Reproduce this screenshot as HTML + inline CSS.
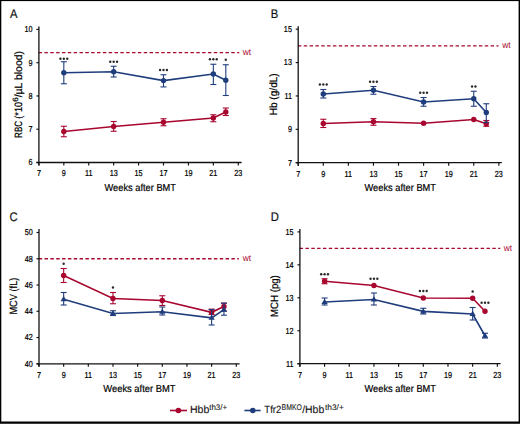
<!DOCTYPE html><html><head><meta charset="utf-8"><style>html,body{margin:0;padding:0;background:#fff;overflow:hidden}svg{display:block}</style></head><body><svg width="520" height="424" viewBox="0 0 520 424" font-family='"Liberation Sans", sans-serif' text-rendering="geometricPrecision">
<rect x="0" y="0" width="520" height="424" fill="#fff"/>
<text transform="translate(10,18.2) scale(0.9,1)" font-size="12.5" fill="#111" stroke="#111" stroke-width="0.2">A</text>
<line x1="38.6" y1="52.69249999999998" x2="239.3" y2="52.69249999999998" stroke="#a8062f" stroke-width="1.3" stroke-dasharray="3.45 2.39"/>
<text x="242.7" y="55.29249999999998" font-size="9" fill="#a8062f" textLength="8.4" lengthAdjust="spacingAndGlyphs">wt</text>
<line x1="38.9" y1="26.5" x2="38.9" y2="165.5" stroke="#111" stroke-width="1.3"/>
<line x1="36.4" y1="162.5" x2="241.6" y2="162.5" stroke="#111" stroke-width="1.3"/>
<line x1="38.9" y1="162.5" x2="38.9" y2="165.5" stroke="#111" stroke-width="1.15"/>
<text transform="translate(38.90,176.40) scale(0.83,1)" font-size="8.7" fill="#000" stroke="#000" stroke-width="0.22" text-anchor="middle">7</text>
<line x1="63.82" y1="162.5" x2="63.82" y2="165.5" stroke="#111" stroke-width="1.15"/>
<text transform="translate(63.82,176.40) scale(0.83,1)" font-size="8.7" fill="#000" stroke="#000" stroke-width="0.22" text-anchor="middle">9</text>
<line x1="88.74000000000001" y1="162.5" x2="88.74000000000001" y2="165.5" stroke="#111" stroke-width="1.15"/>
<text transform="translate(88.74,176.40) scale(0.83,1)" font-size="8.7" fill="#000" stroke="#000" stroke-width="0.22" text-anchor="middle">11</text>
<line x1="113.66" y1="162.5" x2="113.66" y2="165.5" stroke="#111" stroke-width="1.15"/>
<text transform="translate(113.66,176.40) scale(0.83,1)" font-size="8.7" fill="#000" stroke="#000" stroke-width="0.22" text-anchor="middle">13</text>
<line x1="138.58" y1="162.5" x2="138.58" y2="165.5" stroke="#111" stroke-width="1.15"/>
<text transform="translate(138.58,176.40) scale(0.83,1)" font-size="8.7" fill="#000" stroke="#000" stroke-width="0.22" text-anchor="middle">15</text>
<line x1="163.5" y1="162.5" x2="163.5" y2="165.5" stroke="#111" stroke-width="1.15"/>
<text transform="translate(163.50,176.40) scale(0.83,1)" font-size="8.7" fill="#000" stroke="#000" stroke-width="0.22" text-anchor="middle">17</text>
<line x1="188.42000000000002" y1="162.5" x2="188.42000000000002" y2="165.5" stroke="#111" stroke-width="1.15"/>
<text transform="translate(188.42,176.40) scale(0.83,1)" font-size="8.7" fill="#000" stroke="#000" stroke-width="0.22" text-anchor="middle">19</text>
<line x1="213.34" y1="162.5" x2="213.34" y2="165.5" stroke="#111" stroke-width="1.15"/>
<text transform="translate(213.34,176.40) scale(0.83,1)" font-size="8.7" fill="#000" stroke="#000" stroke-width="0.22" text-anchor="middle">21</text>
<line x1="238.26000000000002" y1="162.5" x2="238.26000000000002" y2="165.5" stroke="#111" stroke-width="1.15"/>
<text transform="translate(238.26,176.40) scale(0.83,1)" font-size="8.7" fill="#000" stroke="#000" stroke-width="0.22" text-anchor="middle">23</text>
<line x1="36.4" y1="162.5" x2="38.9" y2="162.5" stroke="#111" stroke-width="1.15"/>
<text transform="translate(32.60,165.40) scale(0.83,1)" font-size="8.7" fill="#000" stroke="#000" stroke-width="0.22" text-anchor="end">6</text>
<line x1="36.4" y1="129.225" x2="38.9" y2="129.225" stroke="#111" stroke-width="1.15"/>
<text transform="translate(32.60,132.12) scale(0.83,1)" font-size="8.7" fill="#000" stroke="#000" stroke-width="0.22" text-anchor="end">7</text>
<line x1="36.4" y1="95.95" x2="38.9" y2="95.95" stroke="#111" stroke-width="1.15"/>
<text transform="translate(32.60,98.85) scale(0.83,1)" font-size="8.7" fill="#000" stroke="#000" stroke-width="0.22" text-anchor="end">8</text>
<line x1="36.4" y1="62.67500000000001" x2="38.9" y2="62.67500000000001" stroke="#111" stroke-width="1.15"/>
<text transform="translate(32.60,65.58) scale(0.83,1)" font-size="8.7" fill="#000" stroke="#000" stroke-width="0.22" text-anchor="end">9</text>
<line x1="36.4" y1="29.400000000000006" x2="38.9" y2="29.400000000000006" stroke="#111" stroke-width="1.15"/>
<text transform="translate(32.60,32.30) scale(0.83,1)" font-size="8.7" fill="#000" stroke="#000" stroke-width="0.22" text-anchor="end">10</text>
<text x="104.5" y="190.9" font-size="10.2" fill="#000" stroke="#000" stroke-width="0.2" textLength="71.5" lengthAdjust="spacingAndGlyphs">Weeks after BMT</text>
<text transform="translate(22.2,137.9) rotate(-90)" x="0" y="0" font-size="10.6" fill="#000" stroke="#000" stroke-width="0.2" textLength="16.9" lengthAdjust="spacingAndGlyphs">RBC</text>
<text transform="translate(22.2,137.9) rotate(-90)" x="19.2" y="0" font-size="10.6" fill="#000" stroke="#000" stroke-width="0.2" textLength="16.8" lengthAdjust="spacingAndGlyphs">(*10</text>
<text transform="translate(22.2,137.9) rotate(-90)" x="36.1" y="-3.8" font-size="7.6" fill="#000" stroke="#000" stroke-width="0.2" textLength="4.5" lengthAdjust="spacingAndGlyphs">6</text>
<text transform="translate(22.2,137.9) rotate(-90)" x="40.6" y="0" font-size="10.6" fill="#000" stroke="#000" stroke-width="0.2" textLength="46.3" lengthAdjust="spacingAndGlyphs">/µL blood)</text>
<polyline points="63.82,131.50 113.66,126.50 163.50,122.25 213.34,118.00 225.80,112.00" fill="none" stroke="#a8062f" stroke-width="1.6"/>
<line x1="63.82" y1="126.25" x2="63.82" y2="136.75" stroke="#a8062f" stroke-width="1.1"/>
<line x1="60.82" y1="126.25" x2="66.82" y2="126.25" stroke="#a8062f" stroke-width="1.1"/>
<line x1="60.82" y1="136.75" x2="66.82" y2="136.75" stroke="#a8062f" stroke-width="1.1"/>
<circle cx="63.82" cy="131.5" r="2.7" fill="#a8062f"/>
<line x1="113.66" y1="121.5" x2="113.66" y2="131.25" stroke="#a8062f" stroke-width="1.1"/>
<line x1="110.66" y1="121.5" x2="116.66" y2="121.5" stroke="#a8062f" stroke-width="1.1"/>
<line x1="110.66" y1="131.25" x2="116.66" y2="131.25" stroke="#a8062f" stroke-width="1.1"/>
<circle cx="113.66" cy="126.5" r="2.7" fill="#a8062f"/>
<line x1="163.5" y1="118.75" x2="163.5" y2="125.75" stroke="#a8062f" stroke-width="1.1"/>
<line x1="160.5" y1="118.75" x2="166.5" y2="118.75" stroke="#a8062f" stroke-width="1.1"/>
<line x1="160.5" y1="125.75" x2="166.5" y2="125.75" stroke="#a8062f" stroke-width="1.1"/>
<circle cx="163.5" cy="122.25" r="2.7" fill="#a8062f"/>
<line x1="213.34" y1="114.75" x2="213.34" y2="121.75" stroke="#a8062f" stroke-width="1.1"/>
<line x1="210.34" y1="114.75" x2="216.34" y2="114.75" stroke="#a8062f" stroke-width="1.1"/>
<line x1="210.34" y1="121.75" x2="216.34" y2="121.75" stroke="#a8062f" stroke-width="1.1"/>
<circle cx="213.34" cy="118" r="2.7" fill="#a8062f"/>
<line x1="225.8" y1="108" x2="225.8" y2="115.5" stroke="#a8062f" stroke-width="1.1"/>
<line x1="222.8" y1="108" x2="228.8" y2="108" stroke="#a8062f" stroke-width="1.1"/>
<line x1="222.8" y1="115.5" x2="228.8" y2="115.5" stroke="#a8062f" stroke-width="1.1"/>
<circle cx="225.8" cy="112" r="2.7" fill="#a8062f"/>
<polyline points="63.82,72.75 113.66,71.75 163.50,80.60 213.34,74.00 225.80,80.25" fill="none" stroke="#1f3d7c" stroke-width="1.6"/>
<line x1="63.82" y1="61.75" x2="63.82" y2="83.75" stroke="#1f3d7c" stroke-width="1.1"/>
<line x1="60.82" y1="61.75" x2="66.82" y2="61.75" stroke="#1f3d7c" stroke-width="1.1"/>
<line x1="60.82" y1="83.75" x2="66.82" y2="83.75" stroke="#1f3d7c" stroke-width="1.1"/>
<circle cx="63.82" cy="72.75" r="2.7" fill="#1f3d7c"/>
<circle cx="60.42" cy="58.75" r="1.2" fill="#2a2a2a"/>
<circle cx="63.82" cy="58.75" r="1.2" fill="#2a2a2a"/>
<circle cx="67.22" cy="58.75" r="1.2" fill="#2a2a2a"/>
<line x1="113.66" y1="66.25" x2="113.66" y2="77" stroke="#1f3d7c" stroke-width="1.1"/>
<line x1="110.66" y1="66.25" x2="116.66" y2="66.25" stroke="#1f3d7c" stroke-width="1.1"/>
<line x1="110.66" y1="77" x2="116.66" y2="77" stroke="#1f3d7c" stroke-width="1.1"/>
<circle cx="113.66" cy="71.75" r="2.7" fill="#1f3d7c"/>
<circle cx="110.26" cy="61.75" r="1.2" fill="#2a2a2a"/>
<circle cx="113.66" cy="61.75" r="1.2" fill="#2a2a2a"/>
<circle cx="117.06" cy="61.75" r="1.2" fill="#2a2a2a"/>
<line x1="163.5" y1="74.75" x2="163.5" y2="86.9" stroke="#1f3d7c" stroke-width="1.1"/>
<line x1="160.5" y1="74.75" x2="166.5" y2="74.75" stroke="#1f3d7c" stroke-width="1.1"/>
<line x1="160.5" y1="86.9" x2="166.5" y2="86.9" stroke="#1f3d7c" stroke-width="1.1"/>
<circle cx="163.5" cy="80.6" r="2.7" fill="#1f3d7c"/>
<circle cx="160.10" cy="70" r="1.2" fill="#2a2a2a"/>
<circle cx="163.50" cy="70" r="1.2" fill="#2a2a2a"/>
<circle cx="166.90" cy="70" r="1.2" fill="#2a2a2a"/>
<line x1="213.34" y1="64.25" x2="213.34" y2="84.5" stroke="#1f3d7c" stroke-width="1.1"/>
<line x1="210.34" y1="64.25" x2="216.34" y2="64.25" stroke="#1f3d7c" stroke-width="1.1"/>
<line x1="210.34" y1="84.5" x2="216.34" y2="84.5" stroke="#1f3d7c" stroke-width="1.1"/>
<circle cx="213.34" cy="74" r="2.7" fill="#1f3d7c"/>
<circle cx="209.94" cy="59.25" r="1.2" fill="#2a2a2a"/>
<circle cx="213.34" cy="59.25" r="1.2" fill="#2a2a2a"/>
<circle cx="216.74" cy="59.25" r="1.2" fill="#2a2a2a"/>
<line x1="225.8" y1="64.75" x2="225.8" y2="95.5" stroke="#1f3d7c" stroke-width="1.1"/>
<line x1="222.8" y1="64.75" x2="228.8" y2="64.75" stroke="#1f3d7c" stroke-width="1.1"/>
<line x1="222.8" y1="95.5" x2="228.8" y2="95.5" stroke="#1f3d7c" stroke-width="1.1"/>
<circle cx="225.8" cy="80.25" r="2.7" fill="#1f3d7c"/>
<circle cx="225.80" cy="59.75" r="1.2" fill="#2a2a2a"/>
<text transform="translate(270.8,18.4) scale(0.9,1)" font-size="12.5" fill="#111" stroke="#111" stroke-width="0.2">B</text>
<line x1="297.9" y1="45.88749999999999" x2="498.5" y2="45.88749999999999" stroke="#a8062f" stroke-width="1.3" stroke-dasharray="3.45 2.39"/>
<text x="502.2" y="48.48749999999999" font-size="9" fill="#a8062f" textLength="8.4" lengthAdjust="spacingAndGlyphs">wt</text>
<line x1="298.2" y1="26.3" x2="298.2" y2="165.7" stroke="#111" stroke-width="1.3"/>
<line x1="295.7" y1="162.7" x2="501.8" y2="162.7" stroke="#111" stroke-width="1.3"/>
<line x1="298.2" y1="162.7" x2="298.2" y2="165.7" stroke="#111" stroke-width="1.15"/>
<text transform="translate(298.20,176.60) scale(0.83,1)" font-size="8.7" fill="#000" stroke="#000" stroke-width="0.22" text-anchor="middle">7</text>
<line x1="323.28" y1="162.7" x2="323.28" y2="165.7" stroke="#111" stroke-width="1.15"/>
<text transform="translate(323.28,176.60) scale(0.83,1)" font-size="8.7" fill="#000" stroke="#000" stroke-width="0.22" text-anchor="middle">9</text>
<line x1="348.36" y1="162.7" x2="348.36" y2="165.7" stroke="#111" stroke-width="1.15"/>
<text transform="translate(348.36,176.60) scale(0.83,1)" font-size="8.7" fill="#000" stroke="#000" stroke-width="0.22" text-anchor="middle">11</text>
<line x1="373.44" y1="162.7" x2="373.44" y2="165.7" stroke="#111" stroke-width="1.15"/>
<text transform="translate(373.44,176.60) scale(0.83,1)" font-size="8.7" fill="#000" stroke="#000" stroke-width="0.22" text-anchor="middle">13</text>
<line x1="398.52" y1="162.7" x2="398.52" y2="165.7" stroke="#111" stroke-width="1.15"/>
<text transform="translate(398.52,176.60) scale(0.83,1)" font-size="8.7" fill="#000" stroke="#000" stroke-width="0.22" text-anchor="middle">15</text>
<line x1="423.59999999999997" y1="162.7" x2="423.59999999999997" y2="165.7" stroke="#111" stroke-width="1.15"/>
<text transform="translate(423.60,176.60) scale(0.83,1)" font-size="8.7" fill="#000" stroke="#000" stroke-width="0.22" text-anchor="middle">17</text>
<line x1="448.67999999999995" y1="162.7" x2="448.67999999999995" y2="165.7" stroke="#111" stroke-width="1.15"/>
<text transform="translate(448.68,176.60) scale(0.83,1)" font-size="8.7" fill="#000" stroke="#000" stroke-width="0.22" text-anchor="middle">19</text>
<line x1="473.76" y1="162.7" x2="473.76" y2="165.7" stroke="#111" stroke-width="1.15"/>
<text transform="translate(473.76,176.60) scale(0.83,1)" font-size="8.7" fill="#000" stroke="#000" stroke-width="0.22" text-anchor="middle">21</text>
<line x1="498.84" y1="162.7" x2="498.84" y2="165.7" stroke="#111" stroke-width="1.15"/>
<text transform="translate(498.84,176.60) scale(0.83,1)" font-size="8.7" fill="#000" stroke="#000" stroke-width="0.22" text-anchor="middle">23</text>
<line x1="295.7" y1="162.7" x2="298.2" y2="162.7" stroke="#111" stroke-width="1.15"/>
<text transform="translate(291.90,165.60) scale(0.83,1)" font-size="8.7" fill="#000" stroke="#000" stroke-width="0.22" text-anchor="end">7</text>
<line x1="295.7" y1="129.325" x2="298.2" y2="129.325" stroke="#111" stroke-width="1.15"/>
<text transform="translate(291.90,132.22) scale(0.83,1)" font-size="8.7" fill="#000" stroke="#000" stroke-width="0.22" text-anchor="end">9</text>
<line x1="295.7" y1="95.94999999999999" x2="298.2" y2="95.94999999999999" stroke="#111" stroke-width="1.15"/>
<text transform="translate(291.90,98.85) scale(0.83,1)" font-size="8.7" fill="#000" stroke="#000" stroke-width="0.22" text-anchor="end">11</text>
<line x1="295.7" y1="62.57499999999999" x2="298.2" y2="62.57499999999999" stroke="#111" stroke-width="1.15"/>
<text transform="translate(291.90,65.47) scale(0.83,1)" font-size="8.7" fill="#000" stroke="#000" stroke-width="0.22" text-anchor="end">13</text>
<line x1="295.7" y1="29.19999999999999" x2="298.2" y2="29.19999999999999" stroke="#111" stroke-width="1.15"/>
<text transform="translate(291.90,32.10) scale(0.83,1)" font-size="8.7" fill="#000" stroke="#000" stroke-width="0.22" text-anchor="end">15</text>
<text x="364.5" y="190.9" font-size="10.2" fill="#000" stroke="#000" stroke-width="0.2" textLength="71.5" lengthAdjust="spacingAndGlyphs">Weeks after BMT</text>
<text transform="translate(277.0,115.3) rotate(-90)" x="0" y="0" font-size="10.6" fill="#000" stroke="#000" stroke-width="0.2" textLength="42.0" lengthAdjust="spacingAndGlyphs">Hb (g/dL)</text>
<polyline points="323.28,123.50 373.44,121.75 423.60,123.25 473.76,119.50 486.30,123.75" fill="none" stroke="#a8062f" stroke-width="1.6"/>
<line x1="323.28" y1="119.25" x2="323.28" y2="127.5" stroke="#a8062f" stroke-width="1.1"/>
<line x1="320.28" y1="119.25" x2="326.28" y2="119.25" stroke="#a8062f" stroke-width="1.1"/>
<line x1="320.28" y1="127.5" x2="326.28" y2="127.5" stroke="#a8062f" stroke-width="1.1"/>
<circle cx="323.28" cy="123.5" r="2.7" fill="#a8062f"/>
<line x1="373.44" y1="118.6" x2="373.44" y2="125.25" stroke="#a8062f" stroke-width="1.1"/>
<line x1="370.44" y1="118.6" x2="376.44" y2="118.6" stroke="#a8062f" stroke-width="1.1"/>
<line x1="370.44" y1="125.25" x2="376.44" y2="125.25" stroke="#a8062f" stroke-width="1.1"/>
<circle cx="373.44" cy="121.75" r="2.7" fill="#a8062f"/>
<circle cx="423.59999999999997" cy="123.25" r="2.7" fill="#a8062f"/>
<circle cx="473.76" cy="119.5" r="2.7" fill="#a8062f"/>
<line x1="486.29999999999995" y1="120.5" x2="486.29999999999995" y2="126.25" stroke="#a8062f" stroke-width="1.1"/>
<line x1="483.29999999999995" y1="120.5" x2="489.29999999999995" y2="120.5" stroke="#a8062f" stroke-width="1.1"/>
<line x1="483.29999999999995" y1="126.25" x2="489.29999999999995" y2="126.25" stroke="#a8062f" stroke-width="1.1"/>
<circle cx="486.29999999999995" cy="123.75" r="2.7" fill="#a8062f"/>
<polyline points="323.28,94.00 373.44,90.25 423.60,102.00 473.76,98.75 486.30,112.50" fill="none" stroke="#1f3d7c" stroke-width="1.6"/>
<line x1="323.28" y1="89.5" x2="323.28" y2="98" stroke="#1f3d7c" stroke-width="1.1"/>
<line x1="320.28" y1="89.5" x2="326.28" y2="89.5" stroke="#1f3d7c" stroke-width="1.1"/>
<line x1="320.28" y1="98" x2="326.28" y2="98" stroke="#1f3d7c" stroke-width="1.1"/>
<circle cx="323.28" cy="94" r="2.7" fill="#1f3d7c"/>
<circle cx="319.88" cy="84.5" r="1.2" fill="#2a2a2a"/>
<circle cx="323.28" cy="84.5" r="1.2" fill="#2a2a2a"/>
<circle cx="326.68" cy="84.5" r="1.2" fill="#2a2a2a"/>
<line x1="373.44" y1="86.5" x2="373.44" y2="94.25" stroke="#1f3d7c" stroke-width="1.1"/>
<line x1="370.44" y1="86.5" x2="376.44" y2="86.5" stroke="#1f3d7c" stroke-width="1.1"/>
<line x1="370.44" y1="94.25" x2="376.44" y2="94.25" stroke="#1f3d7c" stroke-width="1.1"/>
<circle cx="373.44" cy="90.25" r="2.7" fill="#1f3d7c"/>
<circle cx="370.04" cy="81.75" r="1.2" fill="#2a2a2a"/>
<circle cx="373.44" cy="81.75" r="1.2" fill="#2a2a2a"/>
<circle cx="376.84" cy="81.75" r="1.2" fill="#2a2a2a"/>
<line x1="423.59999999999997" y1="97.5" x2="423.59999999999997" y2="106.25" stroke="#1f3d7c" stroke-width="1.1"/>
<line x1="420.59999999999997" y1="97.5" x2="426.59999999999997" y2="97.5" stroke="#1f3d7c" stroke-width="1.1"/>
<line x1="420.59999999999997" y1="106.25" x2="426.59999999999997" y2="106.25" stroke="#1f3d7c" stroke-width="1.1"/>
<circle cx="423.59999999999997" cy="102" r="2.7" fill="#1f3d7c"/>
<circle cx="420.20" cy="92.75" r="1.2" fill="#2a2a2a"/>
<circle cx="423.60" cy="92.75" r="1.2" fill="#2a2a2a"/>
<circle cx="427.00" cy="92.75" r="1.2" fill="#2a2a2a"/>
<line x1="473.76" y1="91.25" x2="473.76" y2="106.25" stroke="#1f3d7c" stroke-width="1.1"/>
<line x1="470.76" y1="91.25" x2="476.76" y2="91.25" stroke="#1f3d7c" stroke-width="1.1"/>
<line x1="470.76" y1="106.25" x2="476.76" y2="106.25" stroke="#1f3d7c" stroke-width="1.1"/>
<circle cx="473.76" cy="98.75" r="2.7" fill="#1f3d7c"/>
<circle cx="472.06" cy="86.5" r="1.2" fill="#2a2a2a"/>
<circle cx="475.46" cy="86.5" r="1.2" fill="#2a2a2a"/>
<line x1="486.29999999999995" y1="103.75" x2="486.29999999999995" y2="122.5" stroke="#1f3d7c" stroke-width="1.1"/>
<line x1="483.29999999999995" y1="103.75" x2="489.29999999999995" y2="103.75" stroke="#1f3d7c" stroke-width="1.1"/>
<line x1="483.29999999999995" y1="122.5" x2="489.29999999999995" y2="122.5" stroke="#1f3d7c" stroke-width="1.1"/>
<circle cx="486.29999999999995" cy="112.5" r="2.7" fill="#1f3d7c"/>
<text transform="translate(9.5,221.3) scale(0.9,1)" font-size="12.5" fill="#111" stroke="#111" stroke-width="0.2">C</text>
<line x1="38.7" y1="258.76" x2="238.8" y2="258.76" stroke="#a8062f" stroke-width="1.3" stroke-dasharray="3.45 2.39"/>
<text x="242.8" y="261.36" font-size="9" fill="#a8062f" textLength="8.4" lengthAdjust="spacingAndGlyphs">wt</text>
<line x1="39" y1="229" x2="39" y2="366.8" stroke="#111" stroke-width="1.3"/>
<line x1="36.5" y1="363.8" x2="239.6" y2="363.8" stroke="#111" stroke-width="1.3"/>
<line x1="39.0" y1="363.8" x2="39.0" y2="366.8" stroke="#111" stroke-width="1.15"/>
<text transform="translate(39.00,377.70) scale(0.83,1)" font-size="8.7" fill="#000" stroke="#000" stroke-width="0.22" text-anchor="middle">7</text>
<line x1="63.66" y1="363.8" x2="63.66" y2="366.8" stroke="#111" stroke-width="1.15"/>
<text transform="translate(63.66,377.70) scale(0.83,1)" font-size="8.7" fill="#000" stroke="#000" stroke-width="0.22" text-anchor="middle">9</text>
<line x1="88.32" y1="363.8" x2="88.32" y2="366.8" stroke="#111" stroke-width="1.15"/>
<text transform="translate(88.32,377.70) scale(0.83,1)" font-size="8.7" fill="#000" stroke="#000" stroke-width="0.22" text-anchor="middle">11</text>
<line x1="112.98" y1="363.8" x2="112.98" y2="366.8" stroke="#111" stroke-width="1.15"/>
<text transform="translate(112.98,377.70) scale(0.83,1)" font-size="8.7" fill="#000" stroke="#000" stroke-width="0.22" text-anchor="middle">13</text>
<line x1="137.64" y1="363.8" x2="137.64" y2="366.8" stroke="#111" stroke-width="1.15"/>
<text transform="translate(137.64,377.70) scale(0.83,1)" font-size="8.7" fill="#000" stroke="#000" stroke-width="0.22" text-anchor="middle">15</text>
<line x1="162.3" y1="363.8" x2="162.3" y2="366.8" stroke="#111" stroke-width="1.15"/>
<text transform="translate(162.30,377.70) scale(0.83,1)" font-size="8.7" fill="#000" stroke="#000" stroke-width="0.22" text-anchor="middle">17</text>
<line x1="186.96" y1="363.8" x2="186.96" y2="366.8" stroke="#111" stroke-width="1.15"/>
<text transform="translate(186.96,377.70) scale(0.83,1)" font-size="8.7" fill="#000" stroke="#000" stroke-width="0.22" text-anchor="middle">19</text>
<line x1="211.62" y1="363.8" x2="211.62" y2="366.8" stroke="#111" stroke-width="1.15"/>
<text transform="translate(211.62,377.70) scale(0.83,1)" font-size="8.7" fill="#000" stroke="#000" stroke-width="0.22" text-anchor="middle">21</text>
<line x1="236.28" y1="363.8" x2="236.28" y2="366.8" stroke="#111" stroke-width="1.15"/>
<text transform="translate(236.28,377.70) scale(0.83,1)" font-size="8.7" fill="#000" stroke="#000" stroke-width="0.22" text-anchor="middle">23</text>
<line x1="36.5" y1="363.8" x2="39" y2="363.8" stroke="#111" stroke-width="1.15"/>
<text transform="translate(32.70,366.70) scale(0.83,1)" font-size="8.7" fill="#000" stroke="#000" stroke-width="0.22" text-anchor="end">40</text>
<line x1="36.5" y1="337.54" x2="39" y2="337.54" stroke="#111" stroke-width="1.15"/>
<text transform="translate(32.70,340.44) scale(0.83,1)" font-size="8.7" fill="#000" stroke="#000" stroke-width="0.22" text-anchor="end">42</text>
<line x1="36.5" y1="311.28000000000003" x2="39" y2="311.28000000000003" stroke="#111" stroke-width="1.15"/>
<text transform="translate(32.70,314.18) scale(0.83,1)" font-size="8.7" fill="#000" stroke="#000" stroke-width="0.22" text-anchor="end">44</text>
<line x1="36.5" y1="285.02" x2="39" y2="285.02" stroke="#111" stroke-width="1.15"/>
<text transform="translate(32.70,287.92) scale(0.83,1)" font-size="8.7" fill="#000" stroke="#000" stroke-width="0.22" text-anchor="end">46</text>
<line x1="36.5" y1="258.76" x2="39" y2="258.76" stroke="#111" stroke-width="1.15"/>
<text transform="translate(32.70,261.66) scale(0.83,1)" font-size="8.7" fill="#000" stroke="#000" stroke-width="0.22" text-anchor="end">48</text>
<line x1="36.5" y1="232.5" x2="39" y2="232.5" stroke="#111" stroke-width="1.15"/>
<text transform="translate(32.70,235.40) scale(0.83,1)" font-size="8.7" fill="#000" stroke="#000" stroke-width="0.22" text-anchor="end">50</text>
<text x="103.3" y="392.3" font-size="10.2" fill="#000" stroke="#000" stroke-width="0.2" textLength="72.2" lengthAdjust="spacingAndGlyphs">Weeks after BMT</text>
<text transform="translate(16.6,314.6) rotate(-90)" x="0" y="0" font-size="10.6" fill="#000" stroke="#000" stroke-width="0.2" textLength="37.0" lengthAdjust="spacingAndGlyphs">MCV (fL)</text>
<polyline points="63.66,275.50 112.98,298.50 162.30,300.50 211.62,312.30 223.95,306.50" fill="none" stroke="#a8062f" stroke-width="1.6"/>
<line x1="63.66" y1="268.5" x2="63.66" y2="282.5" stroke="#a8062f" stroke-width="1.1"/>
<line x1="60.66" y1="268.5" x2="66.66" y2="268.5" stroke="#a8062f" stroke-width="1.1"/>
<line x1="60.66" y1="282.5" x2="66.66" y2="282.5" stroke="#a8062f" stroke-width="1.1"/>
<circle cx="63.66" cy="275.5" r="2.7" fill="#a8062f"/>
<circle cx="63.66" cy="263.75" r="1.2" fill="#2a2a2a"/>
<line x1="112.98" y1="292.5" x2="112.98" y2="303.75" stroke="#a8062f" stroke-width="1.1"/>
<line x1="109.98" y1="292.5" x2="115.98" y2="292.5" stroke="#a8062f" stroke-width="1.1"/>
<line x1="109.98" y1="303.75" x2="115.98" y2="303.75" stroke="#a8062f" stroke-width="1.1"/>
<circle cx="112.98" cy="298.5" r="2.7" fill="#a8062f"/>
<circle cx="112.98" cy="287.5" r="1.2" fill="#2a2a2a"/>
<line x1="162.3" y1="295.75" x2="162.3" y2="305.5" stroke="#a8062f" stroke-width="1.1"/>
<line x1="159.3" y1="295.75" x2="165.3" y2="295.75" stroke="#a8062f" stroke-width="1.1"/>
<line x1="159.3" y1="305.5" x2="165.3" y2="305.5" stroke="#a8062f" stroke-width="1.1"/>
<circle cx="162.3" cy="300.5" r="2.7" fill="#a8062f"/>
<line x1="211.62" y1="309.1" x2="211.62" y2="314.5" stroke="#a8062f" stroke-width="1.1"/>
<line x1="208.62" y1="309.1" x2="214.62" y2="309.1" stroke="#a8062f" stroke-width="1.1"/>
<line x1="208.62" y1="314.5" x2="214.62" y2="314.5" stroke="#a8062f" stroke-width="1.1"/>
<circle cx="211.62" cy="312.3" r="2.7" fill="#a8062f"/>
<line x1="223.95" y1="303" x2="223.95" y2="311" stroke="#a8062f" stroke-width="1.1"/>
<line x1="220.95" y1="303" x2="226.95" y2="303" stroke="#a8062f" stroke-width="1.1"/>
<line x1="220.95" y1="311" x2="226.95" y2="311" stroke="#a8062f" stroke-width="1.1"/>
<circle cx="223.95" cy="306.5" r="2.7" fill="#a8062f"/>
<polyline points="63.66,299.25 112.98,313.50 162.30,311.75 211.62,317.80 223.95,309.60" fill="none" stroke="#1f3d7c" stroke-width="1.6"/>
<line x1="63.66" y1="292.5" x2="63.66" y2="305" stroke="#1f3d7c" stroke-width="1.1"/>
<line x1="60.66" y1="292.5" x2="66.66" y2="292.5" stroke="#1f3d7c" stroke-width="1.1"/>
<line x1="60.66" y1="305" x2="66.66" y2="305" stroke="#1f3d7c" stroke-width="1.1"/>
<polygon points="63.66,295.95 66.80,301.30 60.52,301.30" fill="#1f3d7c"/>
<line x1="112.98" y1="310.75" x2="112.98" y2="315.5" stroke="#1f3d7c" stroke-width="1.1"/>
<line x1="109.98" y1="310.75" x2="115.98" y2="310.75" stroke="#1f3d7c" stroke-width="1.1"/>
<line x1="109.98" y1="315.5" x2="115.98" y2="315.5" stroke="#1f3d7c" stroke-width="1.1"/>
<polygon points="112.98,310.20 116.12,315.55 109.84,315.55" fill="#1f3d7c"/>
<line x1="162.3" y1="307" x2="162.3" y2="315" stroke="#1f3d7c" stroke-width="1.1"/>
<line x1="159.3" y1="307" x2="165.3" y2="307" stroke="#1f3d7c" stroke-width="1.1"/>
<line x1="159.3" y1="315" x2="165.3" y2="315" stroke="#1f3d7c" stroke-width="1.1"/>
<polygon points="162.30,308.45 165.44,313.80 159.17,313.80" fill="#1f3d7c"/>
<line x1="211.62" y1="309.6" x2="211.62" y2="325" stroke="#1f3d7c" stroke-width="1.1"/>
<line x1="208.62" y1="309.6" x2="214.62" y2="309.6" stroke="#1f3d7c" stroke-width="1.1"/>
<line x1="208.62" y1="325" x2="214.62" y2="325" stroke="#1f3d7c" stroke-width="1.1"/>
<polygon points="211.62,314.50 214.75,319.85 208.49,319.85" fill="#1f3d7c"/>
<line x1="223.95" y1="303.3" x2="223.95" y2="315.2" stroke="#1f3d7c" stroke-width="1.1"/>
<line x1="220.95" y1="303.3" x2="226.95" y2="303.3" stroke="#1f3d7c" stroke-width="1.1"/>
<line x1="220.95" y1="315.2" x2="226.95" y2="315.2" stroke="#1f3d7c" stroke-width="1.1"/>
<polygon points="223.95,306.30 227.08,311.65 220.81,311.65" fill="#1f3d7c"/>
<text transform="translate(270.8,221.3) scale(0.9,1)" font-size="12.5" fill="#111" stroke="#111" stroke-width="0.2">D</text>
<line x1="299.59999999999997" y1="248.375" x2="500.3" y2="248.375" stroke="#a8062f" stroke-width="1.3" stroke-dasharray="3.45 2.39"/>
<text x="503.8" y="250.975" font-size="9" fill="#a8062f" textLength="8.4" lengthAdjust="spacingAndGlyphs">wt</text>
<line x1="299.9" y1="229" x2="299.9" y2="366.7" stroke="#111" stroke-width="1.3"/>
<line x1="297.4" y1="363.7" x2="500.6" y2="363.7" stroke="#111" stroke-width="1.3"/>
<line x1="299.9" y1="363.7" x2="299.9" y2="366.7" stroke="#111" stroke-width="1.15"/>
<text transform="translate(299.90,377.60) scale(0.83,1)" font-size="8.7" fill="#000" stroke="#000" stroke-width="0.22" text-anchor="middle">7</text>
<line x1="324.58" y1="363.7" x2="324.58" y2="366.7" stroke="#111" stroke-width="1.15"/>
<text transform="translate(324.58,377.60) scale(0.83,1)" font-size="8.7" fill="#000" stroke="#000" stroke-width="0.22" text-anchor="middle">9</text>
<line x1="349.26" y1="363.7" x2="349.26" y2="366.7" stroke="#111" stroke-width="1.15"/>
<text transform="translate(349.26,377.60) scale(0.83,1)" font-size="8.7" fill="#000" stroke="#000" stroke-width="0.22" text-anchor="middle">11</text>
<line x1="373.93999999999994" y1="363.7" x2="373.93999999999994" y2="366.7" stroke="#111" stroke-width="1.15"/>
<text transform="translate(373.94,377.60) scale(0.83,1)" font-size="8.7" fill="#000" stroke="#000" stroke-width="0.22" text-anchor="middle">13</text>
<line x1="398.62" y1="363.7" x2="398.62" y2="366.7" stroke="#111" stroke-width="1.15"/>
<text transform="translate(398.62,377.60) scale(0.83,1)" font-size="8.7" fill="#000" stroke="#000" stroke-width="0.22" text-anchor="middle">15</text>
<line x1="423.29999999999995" y1="363.7" x2="423.29999999999995" y2="366.7" stroke="#111" stroke-width="1.15"/>
<text transform="translate(423.30,377.60) scale(0.83,1)" font-size="8.7" fill="#000" stroke="#000" stroke-width="0.22" text-anchor="middle">17</text>
<line x1="447.97999999999996" y1="363.7" x2="447.97999999999996" y2="366.7" stroke="#111" stroke-width="1.15"/>
<text transform="translate(447.98,377.60) scale(0.83,1)" font-size="8.7" fill="#000" stroke="#000" stroke-width="0.22" text-anchor="middle">19</text>
<line x1="472.65999999999997" y1="363.7" x2="472.65999999999997" y2="366.7" stroke="#111" stroke-width="1.15"/>
<text transform="translate(472.66,377.60) scale(0.83,1)" font-size="8.7" fill="#000" stroke="#000" stroke-width="0.22" text-anchor="middle">21</text>
<line x1="497.34" y1="363.7" x2="497.34" y2="366.7" stroke="#111" stroke-width="1.15"/>
<text transform="translate(497.34,377.60) scale(0.83,1)" font-size="8.7" fill="#000" stroke="#000" stroke-width="0.22" text-anchor="middle">23</text>
<line x1="297.4" y1="363.7" x2="299.9" y2="363.7" stroke="#111" stroke-width="1.15"/>
<text transform="translate(293.60,366.60) scale(0.83,1)" font-size="8.7" fill="#000" stroke="#000" stroke-width="0.22" text-anchor="end">11</text>
<line x1="297.4" y1="330.75" x2="299.9" y2="330.75" stroke="#111" stroke-width="1.15"/>
<text transform="translate(293.60,333.65) scale(0.83,1)" font-size="8.7" fill="#000" stroke="#000" stroke-width="0.22" text-anchor="end">12</text>
<line x1="297.4" y1="297.8" x2="299.9" y2="297.8" stroke="#111" stroke-width="1.15"/>
<text transform="translate(293.60,300.70) scale(0.83,1)" font-size="8.7" fill="#000" stroke="#000" stroke-width="0.22" text-anchor="end">13</text>
<line x1="297.4" y1="264.85" x2="299.9" y2="264.85" stroke="#111" stroke-width="1.15"/>
<text transform="translate(293.60,267.75) scale(0.83,1)" font-size="8.7" fill="#000" stroke="#000" stroke-width="0.22" text-anchor="end">14</text>
<line x1="297.4" y1="231.9" x2="299.9" y2="231.9" stroke="#111" stroke-width="1.15"/>
<text transform="translate(293.60,234.80) scale(0.83,1)" font-size="8.7" fill="#000" stroke="#000" stroke-width="0.22" text-anchor="end">15</text>
<text x="364.5" y="392.3" font-size="10.2" fill="#000" stroke="#000" stroke-width="0.2" textLength="71.5" lengthAdjust="spacingAndGlyphs">Weeks after BMT</text>
<text transform="translate(277.7,316.9) rotate(-90)" x="0" y="0" font-size="10.6" fill="#000" stroke="#000" stroke-width="0.2" textLength="41.69999999999999" lengthAdjust="spacingAndGlyphs">MCH (pg)</text>
<polyline points="324.58,281.25 373.94,285.50 423.30,298.00 472.66,298.25 485.00,311.25" fill="none" stroke="#a8062f" stroke-width="1.6"/>
<line x1="324.58" y1="278.75" x2="324.58" y2="283.75" stroke="#a8062f" stroke-width="1.1"/>
<line x1="321.58" y1="278.75" x2="327.58" y2="278.75" stroke="#a8062f" stroke-width="1.1"/>
<line x1="321.58" y1="283.75" x2="327.58" y2="283.75" stroke="#a8062f" stroke-width="1.1"/>
<circle cx="324.58" cy="281.25" r="2.7" fill="#a8062f"/>
<circle cx="321.18" cy="274.25" r="1.2" fill="#2a2a2a"/>
<circle cx="324.58" cy="274.25" r="1.2" fill="#2a2a2a"/>
<circle cx="327.98" cy="274.25" r="1.2" fill="#2a2a2a"/>
<circle cx="373.93999999999994" cy="285.5" r="2.7" fill="#a8062f"/>
<circle cx="370.54" cy="278.75" r="1.2" fill="#2a2a2a"/>
<circle cx="373.94" cy="278.75" r="1.2" fill="#2a2a2a"/>
<circle cx="377.34" cy="278.75" r="1.2" fill="#2a2a2a"/>
<circle cx="423.29999999999995" cy="298" r="2.7" fill="#a8062f"/>
<circle cx="419.90" cy="291" r="1.2" fill="#2a2a2a"/>
<circle cx="423.30" cy="291" r="1.2" fill="#2a2a2a"/>
<circle cx="426.70" cy="291" r="1.2" fill="#2a2a2a"/>
<circle cx="472.65999999999997" cy="298.25" r="2.7" fill="#a8062f"/>
<circle cx="472.66" cy="291.5" r="1.2" fill="#2a2a2a"/>
<circle cx="485.0" cy="311.25" r="2.7" fill="#a8062f"/>
<circle cx="481.60" cy="302.75" r="1.2" fill="#2a2a2a"/>
<circle cx="485.00" cy="302.75" r="1.2" fill="#2a2a2a"/>
<circle cx="488.40" cy="302.75" r="1.2" fill="#2a2a2a"/>
<polyline points="324.58,302.00 373.94,299.50 423.30,311.40 472.66,314.00 485.00,335.75" fill="none" stroke="#1f3d7c" stroke-width="1.6"/>
<line x1="324.58" y1="298" x2="324.58" y2="305" stroke="#1f3d7c" stroke-width="1.1"/>
<line x1="321.58" y1="298" x2="327.58" y2="298" stroke="#1f3d7c" stroke-width="1.1"/>
<line x1="321.58" y1="305" x2="327.58" y2="305" stroke="#1f3d7c" stroke-width="1.1"/>
<polygon points="324.58,298.70 327.71,304.05 321.44,304.05" fill="#1f3d7c"/>
<line x1="373.93999999999994" y1="293" x2="373.93999999999994" y2="305" stroke="#1f3d7c" stroke-width="1.1"/>
<line x1="370.93999999999994" y1="293" x2="376.93999999999994" y2="293" stroke="#1f3d7c" stroke-width="1.1"/>
<line x1="370.93999999999994" y1="305" x2="376.93999999999994" y2="305" stroke="#1f3d7c" stroke-width="1.1"/>
<polygon points="373.94,296.20 377.07,301.55 370.80,301.55" fill="#1f3d7c"/>
<line x1="423.29999999999995" y1="308.25" x2="423.29999999999995" y2="314" stroke="#1f3d7c" stroke-width="1.1"/>
<line x1="420.29999999999995" y1="308.25" x2="426.29999999999995" y2="308.25" stroke="#1f3d7c" stroke-width="1.1"/>
<line x1="420.29999999999995" y1="314" x2="426.29999999999995" y2="314" stroke="#1f3d7c" stroke-width="1.1"/>
<polygon points="423.30,308.10 426.43,313.45 420.16,313.45" fill="#1f3d7c"/>
<line x1="472.65999999999997" y1="307.5" x2="472.65999999999997" y2="320" stroke="#1f3d7c" stroke-width="1.1"/>
<line x1="469.65999999999997" y1="307.5" x2="475.65999999999997" y2="307.5" stroke="#1f3d7c" stroke-width="1.1"/>
<line x1="469.65999999999997" y1="320" x2="475.65999999999997" y2="320" stroke="#1f3d7c" stroke-width="1.1"/>
<polygon points="472.66,310.70 475.79,316.05 469.52,316.05" fill="#1f3d7c"/>
<line x1="485.0" y1="333.25" x2="485.0" y2="338" stroke="#1f3d7c" stroke-width="1.1"/>
<line x1="482.0" y1="333.25" x2="488.0" y2="333.25" stroke="#1f3d7c" stroke-width="1.1"/>
<line x1="482.0" y1="338" x2="488.0" y2="338" stroke="#1f3d7c" stroke-width="1.1"/>
<polygon points="485.00,332.45 488.13,337.80 481.87,337.80" fill="#1f3d7c"/>
<line x1="170" y1="410.5" x2="187" y2="410.5" stroke="#a8062f" stroke-width="1.6"/>
<circle cx="178.4" cy="410.5" r="2.8" fill="#a8062f"/>
<text x="190" y="413.2" font-size="10.5" fill="#111" stroke="#111" stroke-width="0.1">Hbb</text>
<text x="209.2" y="410.4" font-size="8.2" fill="#111" stroke="#111" stroke-width="0.08" textLength="18" lengthAdjust="spacingAndGlyphs">th3/+</text>
<line x1="244.4" y1="410.5" x2="260.6" y2="410.5" stroke="#1f3d7c" stroke-width="1.6"/>
<circle cx="252.8" cy="410.5" r="2.8" fill="#1f3d7c"/>
<text x="264.3" y="413.2" font-size="10.5" fill="#111" stroke="#111" stroke-width="0.1" textLength="17" lengthAdjust="spacingAndGlyphs">Tfr2</text>
<text x="281.6" y="410.4" font-size="8.2" fill="#111" stroke="#111" stroke-width="0.08" textLength="20.4" lengthAdjust="spacingAndGlyphs">BMKO</text>
<text x="302.2" y="413.2" font-size="10.5" fill="#111" stroke="#111" stroke-width="0.1" textLength="22" lengthAdjust="spacingAndGlyphs">/Hbb</text>
<text x="325" y="410.4" font-size="8.2" fill="#111" stroke="#111" stroke-width="0.08" textLength="18.8" lengthAdjust="spacingAndGlyphs">th3/+</text>
<rect x="0" y="0" width="520" height="1.1" fill="#000"/>
<rect x="0" y="0" width="1.3" height="424" fill="#000"/>
<rect x="518.6" y="0" width="1.4" height="424" fill="#000"/>
<rect x="0" y="421.5" width="520" height="1.5" fill="#000"/><rect x="0" y="423" width="520" height="1" fill="#3a3a3a"/>
</svg></body></html>
